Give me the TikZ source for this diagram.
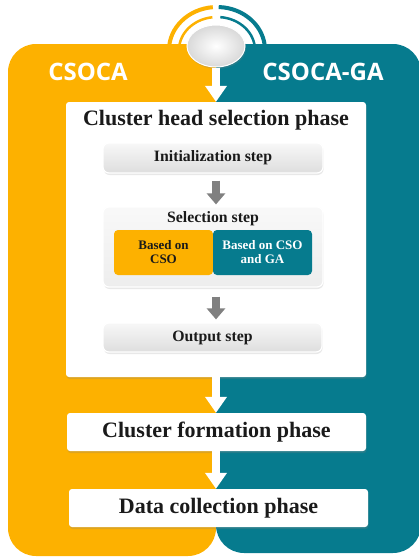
\documentclass[tikz,border=0pt]{standalone}
\usepackage{fontspec}
\setmainfont{Liberation Serif}
\newfontfamily\labelfont{Open Sans}
\usepackage{xcolor}
\usepackage{tikz}
\usetikzlibrary{shapes,arrows,positioning,calc,shadows,arrows.meta}

\definecolor{csoorange}{HTML}{FDB100}
\definecolor{csoteal}{HTML}{067B8E}
\definecolor{arrowgray}{HTML}{808080}
\definecolor{textdark}{HTML}{1A1A1A}

\tikzset{
    phasebox/.style={fill=white, rounded corners=3pt, inner sep=0pt,
        drop shadow={opacity=0.25, shadow xshift=0.6pt, shadow yshift=-2pt}},
    stepbox/.style={rounded corners=6pt, top color=gray!6, bottom color=gray!26,
        draw=white, line width=1.2pt, inner sep=0pt,
        drop shadow={opacity=0.18, shadow xshift=0.6pt, shadow yshift=-2pt}},
    halfbox/.style={rounded corners=4pt, inner sep=0pt, align=center,
        minimum width=99pt, minimum height=45pt,
        font=\bfseries\fontsize{13}{14}\selectfont},
    phasetext/.style={font=\bfseries\fontsize{22}{26}\selectfont, text=textdark},
    steptext/.style={font=\bfseries\fontsize{15.8}{18}\selectfont, text=textdark},
    whitearrow/.style={white, line width=8pt, -{Triangle[width=21pt,length=16pt]}},
    grayarrow/.style={arrowgray, line width=8pt, -{Triangle[width=18pt,length=11pt]}},
    sidelabel/.style={font=\labelfont\bfseries\fontsize{24}{28}\selectfont, text=white}
}

\begin{document}
\begin{tikzpicture}[x=1pt, y=1pt]
    \useasboundingbox (0,0) rectangle (419,-558);

    % arcs round the hub
    \draw[csoorange, line width=4pt] (217,-50) ++(180:48 and 43) arc[start angle=180, end angle=95, x radius=48, y radius=43];
    \draw[csoteal, line width=4pt] (217,-50) ++(88:48 and 43) arc[start angle=88, end angle=0, x radius=48, y radius=43];
    \draw[csoorange, line width=2.5pt] (217,-50) ++(180:38 and 33) arc[start angle=180, end angle=97, x radius=38, y radius=33];
    \draw[csoteal, line width=2.5pt] (217,-50) ++(85:38 and 33) arc[start angle=85, end angle=0, x radius=38, y radius=33];

    % the two panels
    \fill[csoorange, rounded corners=28pt] (8,-44) rectangle (216,-556);
    \fill[csoorange] (150,-44) rectangle (216,-120);
    \fill[csoteal, rounded corners=28pt] (216,-44) rectangle (421,-553);
    \fill[csoteal] (216,-44) rectangle (290,-120);

    \node[sidelabel] (lcsoca) at (88,-72) {CSOCA};
    \node[sidelabel] (lcsocaga) at (323,-72) {CSOCA-GA};

    % hub
    \node[ellipse, minimum width=58pt, minimum height=42pt, inner sep=0pt,
        inner color=white, outer color=gray!30, draw=white, line width=1pt,
        drop shadow={opacity=0.25, shadow xshift=1pt, shadow yshift=-2pt}] (hub) at (216,-46) {};

    % cluster head selection phase
    \node[phasebox, minimum width=300pt, minimum height=275pt] (chs) at (216,-239.5) {};
    \node[phasetext] (chstitle) at (216,-120) {Cluster head selection phase};

    \node[stepbox, minimum width=220pt, minimum height=30pt] (init) at (213,-158) {};
    \node[steptext] (inittext) at (init) {Initialization step};

    \node[stepbox, top color=gray!5, bottom color=gray!14, minimum width=220pt, minimum height=80pt] (sel) at (213,-247) {};
    \node[steptext] (seltitle) at (213,-219) {Selection step};
    \node[halfbox, fill=csoorange, text=textdark] (cso) at (163.5,-252.5) {Based on\\CSO};
    \node[halfbox, fill=csoteal, text=white] (csoga) at (262.5,-252.5) {Based on CSO\\and GA};

    \node[stepbox, minimum width=219pt, minimum height=29pt] (out) at (212.5,-337.5) {};
    \node[steptext] (outtext) at (out) {Output step};

    % next phases
    \node[phasebox, minimum width=299pt, minimum height=38pt] (cf) at (216.5,-432) {};
    \node[phasetext] (cftext) at (cf) {Cluster formation phase};
    \node[phasebox, minimum width=299pt, minimum height=38pt] (dc) at (218.5,-508) {};
    \node[phasetext] (dctext) at (dc) {Data collection phase};

    % arrows
    \draw[whitearrow] (hub.south) -- (chs.north -| hub.south);
    \draw[grayarrow, shorten <=7pt, shorten >=2pt] (init.south -| hub.south) -- (sel.north -| hub.south);
    \draw[grayarrow, shorten <=9pt, shorten >=3pt] (sel.south -| hub.south) -- (out.north -| hub.south);
    \draw[whitearrow] (chs.south -| hub.south) -- (cf.north -| hub.south);
    \draw[whitearrow] (cf.south -| hub.south) -- (dc.north -| hub.south);
\end{tikzpicture}
\end{document}
